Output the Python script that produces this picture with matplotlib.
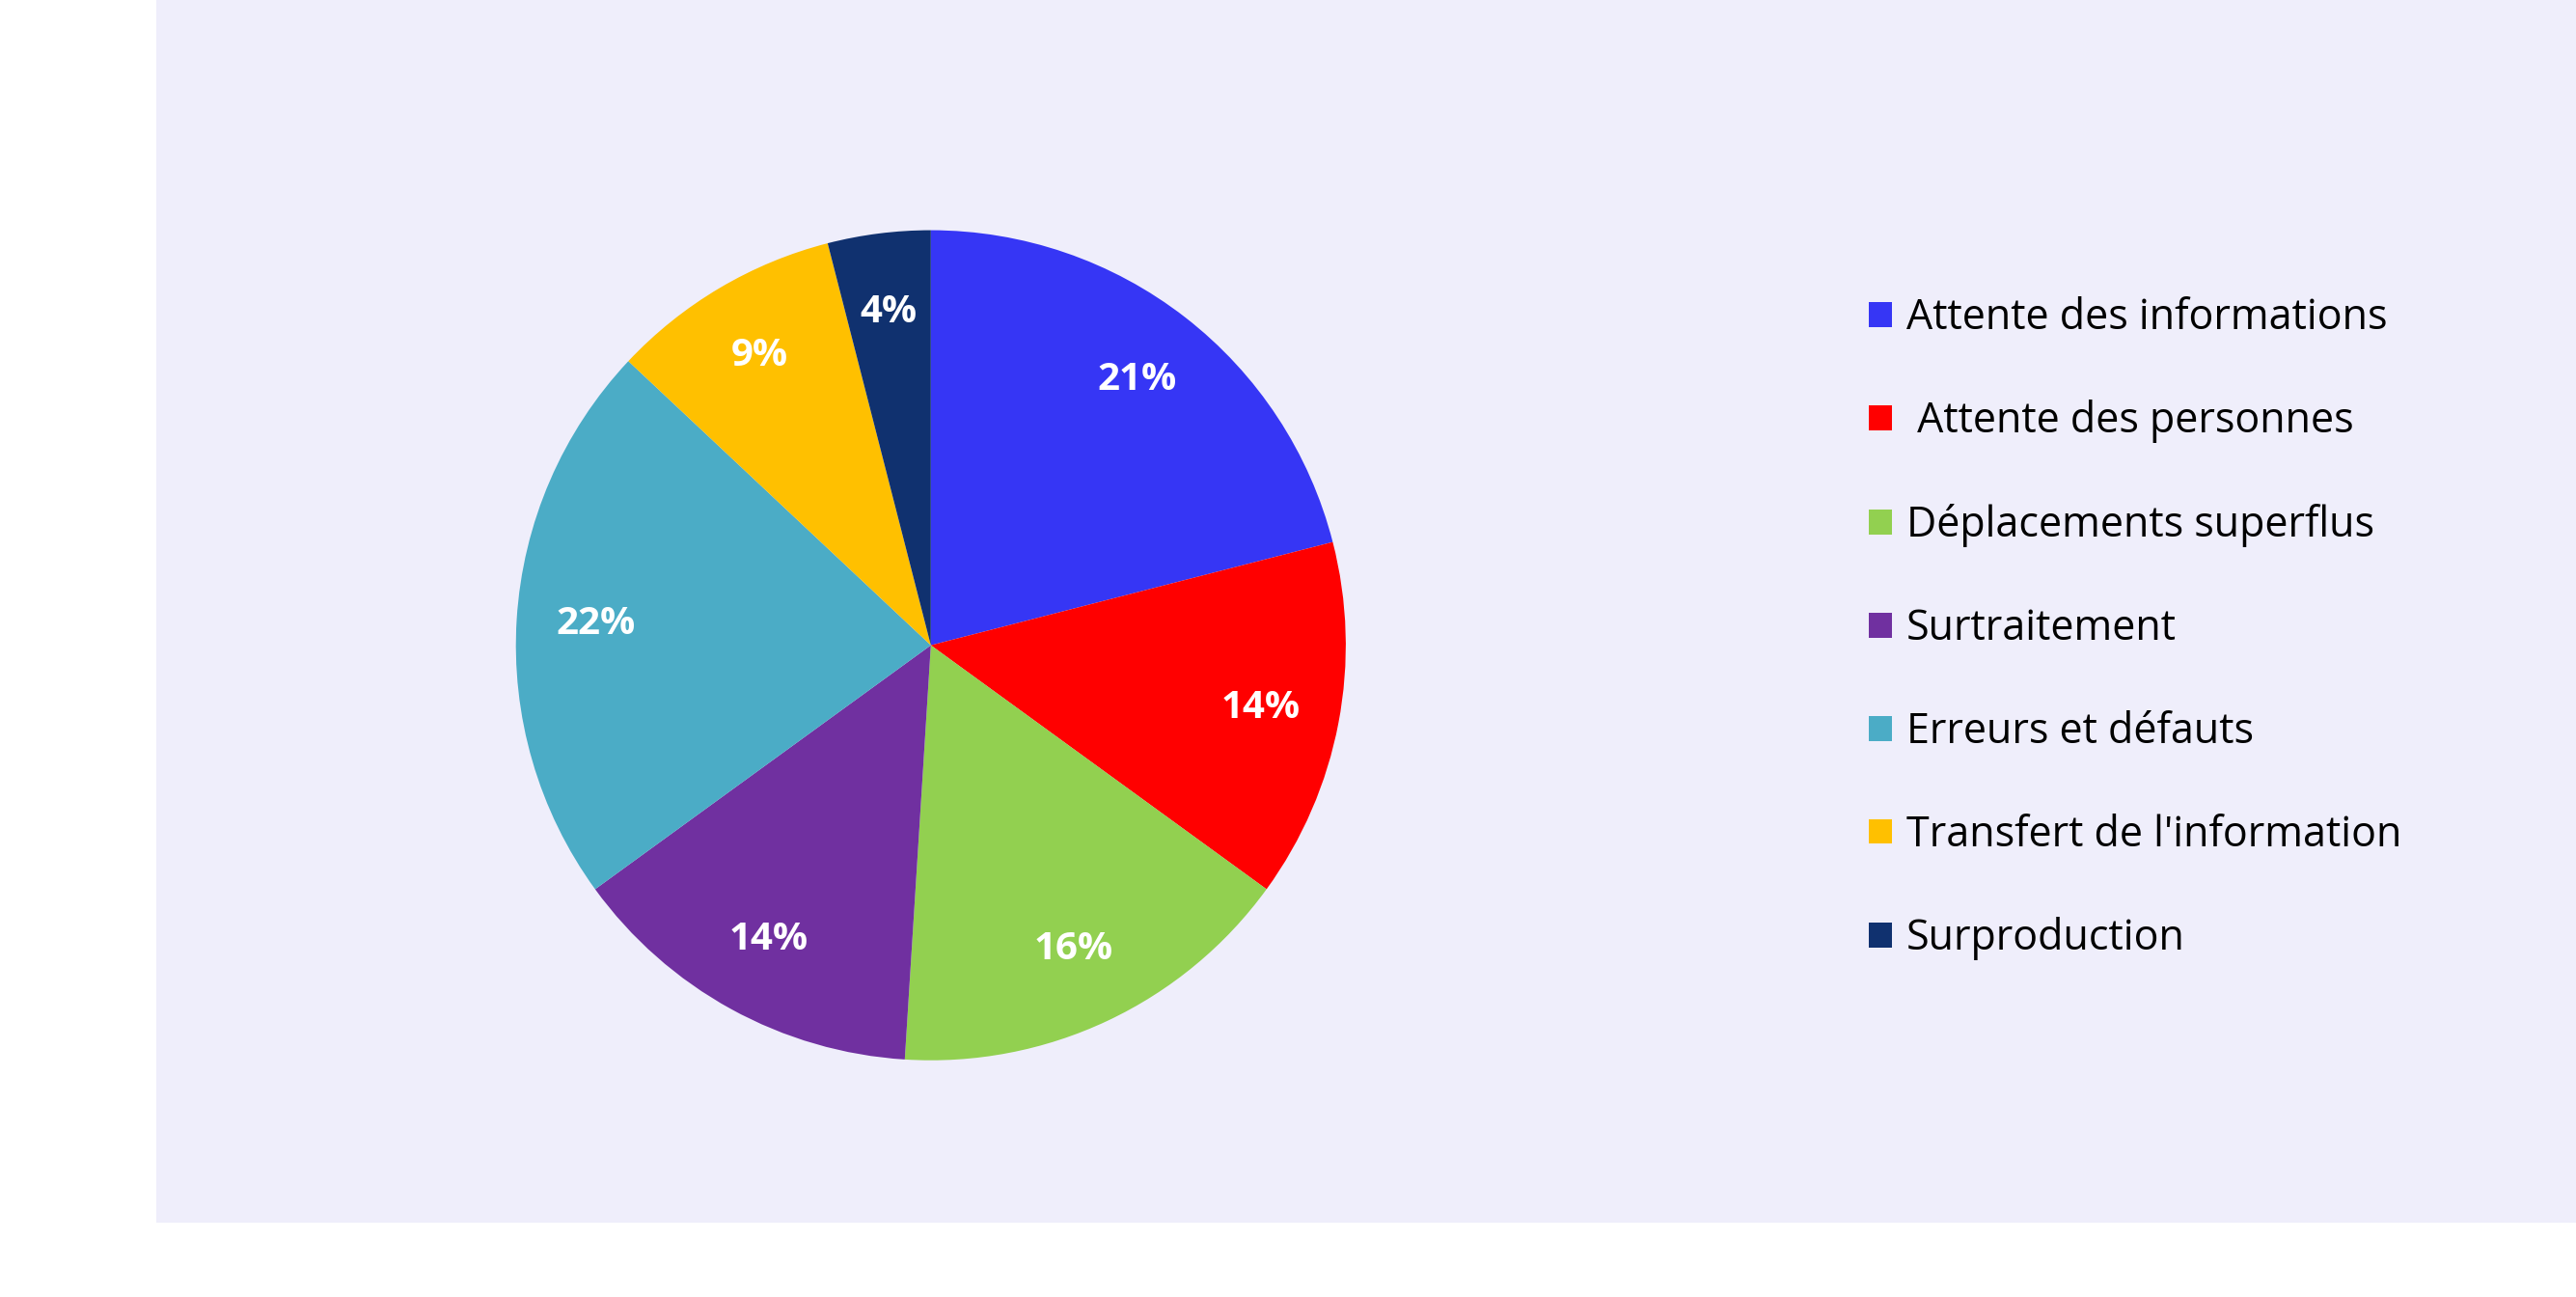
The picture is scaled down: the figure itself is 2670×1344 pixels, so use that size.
import matplotlib.pyplot as plt
from matplotlib.patches import Rectangle

categories = ['Attente des informations', ' Attente des personnes', 'Déplacements superflus',
              'Surtraitement', 'Erreurs et défauts', "Transfert de l'information", 'Surproduction']
values = [21, 14, 16, 14, 22, 9, 4]
colors = ['#3636F5', '#FF0000', '#92D050', '#7030A0', '#4BACC6', '#FFC000', '#10316F']

fig = plt.figure(figsize=(26.7, 13.44), dpi=100)
fig.patches.append(Rectangle((0.0606, 0.057), 1 - 0.0606, 1 - 0.057, transform=fig.transFigure,
                             facecolor='#EFEEFB', edgecolor='none', zorder=-5))

ax = fig.add_axes([0.160, 0.1025, 0.4027, 0.8])
ax.set_zorder(2)
ax.patch.set_visible(False)
wedges, texts, autotexts = ax.pie(values, colors=colors, startangle=90, counterclock=False,
                                  autopct='%d%%', pctdistance=0.81,
                                  textprops=dict(color='white', fontsize=29, fontweight='bold',
                                                 family=['Open Sans', 'DejaVu Sans']))
ax.set_aspect('equal')

leg = fig.legend(wedges, categories, loc='upper left', bbox_to_anchor=(0.711, 0.80), frameon=False,
                 handlelength=0.55, handleheight=0.55, handletextpad=0.35,
                 labelspacing=1.45, prop=dict(family=['Open Sans', 'DejaVu Sans'], size=31))
leg.set_zorder(3)

fig.savefig('out.png', dpi=100)
